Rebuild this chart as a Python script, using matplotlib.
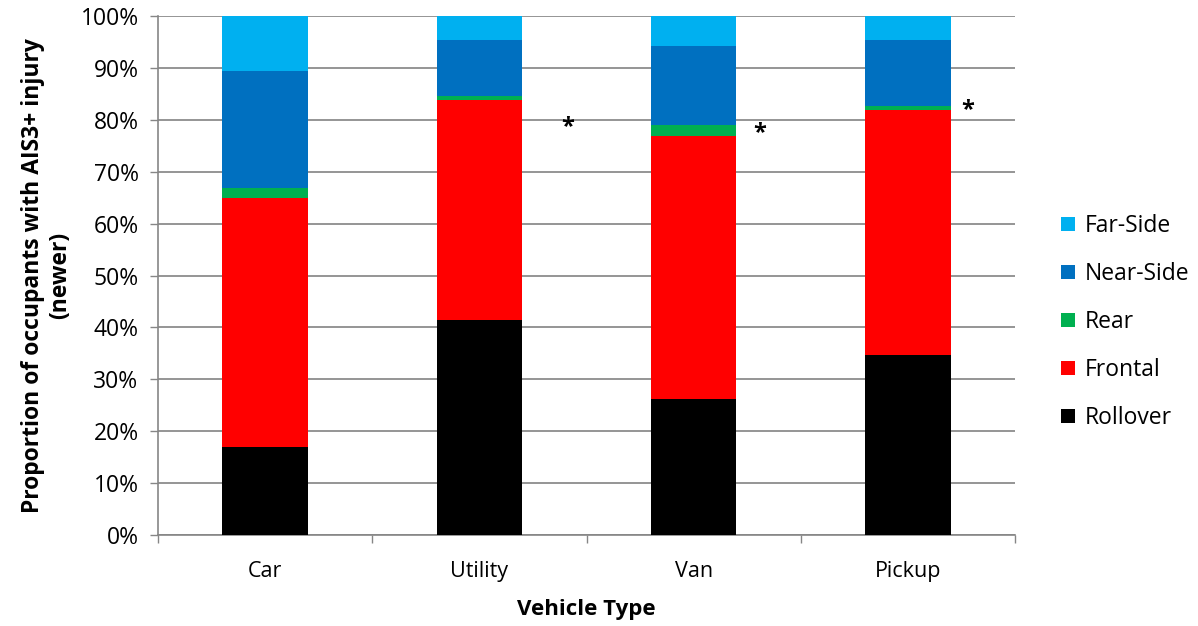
import matplotlib
matplotlib.use("Agg")
import matplotlib.pyplot as plt
import numpy as np
from matplotlib.ticker import PercentFormatter, MultipleLocator, FixedLocator

plt.rcParams['font.family'] = ['Open Sans', 'DejaVu Sans']

categories = ["Car", "Utility", "Van", "Pickup"]
rollover = [17.0, 41.5, 26.2, 34.6]
frontal = [47.9, 42.3, 50.7, 47.3]
rear = [1.9, 0.7, 2.1, 0.7]
near_side = [22.6, 10.8, 15.3, 12.8]
far_side = [10.6, 4.7, 5.7, 4.6]

series = [("Rollover", rollover, "#000000"),
          ("Frontal", frontal, "#FF0000"),
          ("Rear", rear, "#00B050"),
          ("Near-Side", near_side, "#0070C0"),
          ("Far-Side", far_side, "#00B0F0")]

# asterisk annotations: (category index, x offset, y value)
star_cats = [1, 2, 3]
star_dx = [0.41, 0.31, 0.28]
star_y = [78.5, 77.4, 81.8]

fig = plt.figure(figsize=(11.98, 6.26), dpi=100)
ax = fig.add_axes([158/1198, 1 - 535/626, (1015-158)/1198, (535-16)/626])

x = np.arange(len(categories))
bottom = np.zeros(len(categories))
handles = []
for name, vals, col in series:
    b = ax.bar(x, vals, width=0.4, bottom=bottom, color=col, label=name,
               edgecolor='none', zorder=3)
    handles.append(b)
    bottom += np.array(vals)

for ci, dx, yv in zip(star_cats, star_dx, star_y):
    ax.text(ci + dx, yv, "*", ha='center', va='center', fontsize=17,
            fontweight='bold', color='black')

ax.set_xlim(-0.5, len(categories) - 0.5)
ax.set_ylim(0, 100)
ax.yaxis.set_major_locator(MultipleLocator(10))
ax.yaxis.set_major_formatter(PercentFormatter(decimals=0))
ax.set_xticks(x)
ax.set_xticklabels(categories)
ax.xaxis.set_minor_locator(FixedLocator(np.arange(-0.5, len(categories), 1.0)))
ax.tick_params(axis='x', which='major', length=0, labelsize=15.5, pad=19)
ax.tick_params(axis='x', which='minor', length=6, color='#868686', width=1)
ax.tick_params(axis='y', which='major', length=6, color='#868686', width=1,
               labelsize=16.5, pad=8)
ax.grid(axis='y', color='#8C8C8C', linewidth=1.3, zorder=0)
for s in ['top', 'right']:
    ax.spines[s].set_visible(False)
for s in ['left', 'bottom']:
    ax.spines[s].set_color('#868686')
    ax.spines[s].set_linewidth(1.2)

ax.set_xlabel("Vehicle Type", fontsize=16, fontweight='bold', labelpad=12)
ax.set_ylabel("Proportion of occupants with AIS3+ injury\n(newer)",
              fontsize=16.5, fontweight='bold', labelpad=6, linespacing=1.15)

leg = fig.legend(handles[::-1], [s[0] for s in series][::-1],
                 loc='center left', bbox_to_anchor=(1052/1198, 1 - 322/626),
                 frameon=False, fontsize=16.5, handlelength=0.6, handleheight=0.6,
                 labelspacing=1.05, handletextpad=0.45, borderaxespad=0)

fig.savefig("out.png", dpi=100)
